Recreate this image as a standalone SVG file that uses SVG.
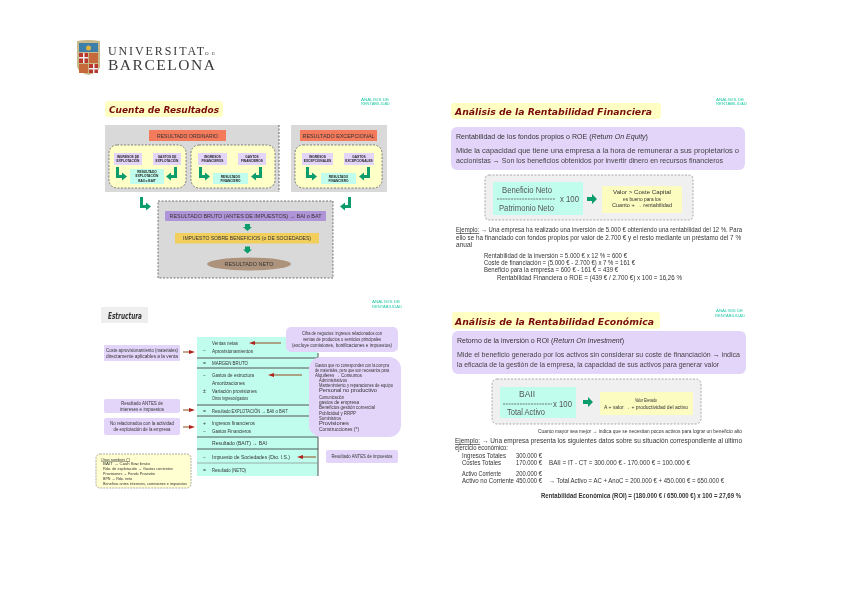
<svg xmlns="http://www.w3.org/2000/svg" width="848" height="600" viewBox="0 0 848 600">
<style>
text{font-family:"Liberation Sans",Arial,sans-serif;fill:#333;font-size:6px}
.c{text-anchor:middle}
.t{font-family:"DejaVu Sans",sans-serif;font-size:9.5px;font-weight:bold;font-style:italic;fill:#7a0c0c}
.tiny{font-size:3.2px;font-weight:bold;fill:#222}
.h{font-size:7px;fill:#333}
.p{font-size:7.5px;fill:#444}
.s{font-size:5px;fill:#333}
.m{font-size:4.500px;fill:#333}
.k{font-size:6.500px;fill:#333}
.f{font-size:8.500px;fill:#555}
.corner{font-size:3.500px;fill:#25c9a8}
.ser{font-family:"Liberation Serif",serif;fill:#3a3a3a}
.grey{fill:#d9d9d9}
.or{fill:#f47a5b}
.yl{fill:#ffffc8;stroke:#555;stroke-width:.7;stroke-dasharray:2 1.5}
.li{fill:#e3d5fa}
.cy{fill:#c0fdec}
.ye{fill:#fdfcc0}
.gb{fill:#f0f0f0;stroke:#888;stroke-width:.7;stroke-dasharray:2 1.5}
.ga{fill:#0b9c6c}
.rule{stroke:#444;stroke-width:1;fill:none}
.rl{stroke:#9c6a40;stroke-width:1.2;fill:none;marker-end:url(#rh)}
.tb{fill:#ffffc4}
</style>
<defs>
<marker id="rh" markerUnits="userSpaceOnUse" markerWidth="6" markerHeight="4" refX="1" refY="2" orient="auto"><path d="M0 0L6 2L0 4Z" fill="#b0201a"/></marker>
<path id="lr" d="M0 0h3v8h3v-2.500l5 4-5 4v-2.500H0Z"/>
<path id="ll" d="M11 0H8v8H5V5.500l-5 4 5 4V11h6Z"/>
<path id="dn" d="M2 0h5v3h2l-4.500 4L0 3h2Z"/>
<filter id="b" x="0" y="0" width="100%" height="100%"><feGaussianBlur stdDeviation="0.4"/></filter>
</defs>
<rect width="848" height="600" fill="#fff"/>
<g filter="url(#b)">
<g id="logo">
<path d="M77 41q11-2 23 0v26q-2 6-11.500 8-9.500-2-11.500-8Z" fill="#c9b98a"/>
<rect x="79" y="43" width="19" height="9" fill="#3d7fa8"/>
<circle cx="88.500" cy="48" r="2.500" fill="#e0b040"/>
<rect x="79" y="53" width="9" height="10" fill="#b8372f"/>
<rect x="89" y="53" width="9" height="10" fill="#c76a3a"/>
<rect x="79" y="64" width="9" height="9" fill="#c76a3a"/>
<rect x="89" y="64" width="9" height="9" fill="#b8372f"/>
<rect x="79" y="57" width="9" height="1.500" fill="#eee"/><rect x="83" y="53" width="1.500" height="10" fill="#eee"/>
<rect x="89" y="68" width="9" height="1.500" fill="#eee"/><rect x="93" y="64" width="1.500" height="9" fill="#eee"/>
<text class="ser" x="108" y="55" style="font-size:12px" textLength="96" lengthAdjust="spacing">UNIVERSITAT</text>
<text class="ser" x="205" y="55" style="font-size:5px" textLength="10" lengthAdjust="spacing">DE</text>
<text class="ser" x="108" y="70" style="font-size:15.500px" textLength="107" lengthAdjust="spacing">BARCELONA</text>
</g>

<g id="cuenta">
<rect x="105" y="101" width="118" height="16" rx="3" class="tb"/>
<text class="t" x="109" y="113" textLength="110" lengthAdjust="spacingAndGlyphs">Cuenta de Resultados</text>
<text class="corner" x="361" y="101" textLength="28" lengthAdjust="spacingAndGlyphs">ANÁLISIS DE</text>
<text class="corner" x="361" y="105" textLength="29" lengthAdjust="spacingAndGlyphs">RENTABILIDAD</text>
<rect x="105" y="125" width="174" height="67" class="grey"/>
<path d="M279 125V192" stroke="#444" stroke-dasharray="2 1.500" stroke-width=".8"/>
<rect x="291" y="125" width="96" height="67" class="grey"/>
<rect x="149" y="130" width="77" height="11" class="or"/>
<text class="s c" x="187.500" y="137.500" textLength="61" lengthAdjust="spacingAndGlyphs">RESULTADO ORDINARIO</text>
<rect x="300" y="130" width="77" height="11" class="or"/>
<text class="s c" x="338.500" y="137.500" textLength="72" lengthAdjust="spacingAndGlyphs">RESULTADO EXCEPCIONAL</text>
<rect x="109" y="145" width="77" height="43" rx="8" class="yl"/>
<rect x="191" y="145" width="84" height="43" rx="8" class="yl"/>
<rect x="295" y="145" width="87" height="43" rx="8" class="yl"/>
<rect x="114" y="153" width="28" height="12" class="li"/>
<rect x="153" y="153" width="28" height="12" class="li"/>
<rect x="198" y="153" width="29" height="12" class="li"/>
<rect x="238" y="153" width="28" height="12" class="li"/>
<rect x="302" y="153" width="31" height="12" class="li"/>
<rect x="344" y="153" width="30" height="12" class="li"/>
<rect x="130" y="169" width="34" height="15" class="cy"/>
<rect x="213" y="173" width="35" height="11" class="cy"/>
<rect x="321" y="173" width="35" height="11" class="cy"/>
<g>
<text class="tiny c" x="128" y="158">INGRESOS DE</text><text class="tiny c" x="128" y="162">EXPLOTACIÓN</text>
<text class="tiny c" x="167" y="158">GASTOS DE</text><text class="tiny c" x="167" y="162">EXPLOTACIÓN</text>
<text class="tiny c" x="212.500" y="158">INGRESOS</text><text class="tiny c" x="212.500" y="162">FINANCIEROS</text>
<text class="tiny c" x="252" y="158">GASTOS</text><text class="tiny c" x="252" y="162">FINANCIEROS</text>
<text class="tiny c" x="317.500" y="158">INGRESOS</text><text class="tiny c" x="317.500" y="162">EXCEPCIONALES</text>
<text class="tiny c" x="359" y="158">GASTOS</text><text class="tiny c" x="359" y="162">EXCEPCIONALES</text>
<text class="tiny c" x="147" y="173">RESULTADO</text><text class="tiny c" x="147" y="177">EXPLOTACIÓN</text><text class="tiny c" x="147" y="182">BAII o BAIT</text>
<text class="tiny c" x="230.500" y="177.500">RESULTADO</text><text class="tiny c" x="230.500" y="182">FINANCIERO</text>
<text class="tiny c" x="338.500" y="177.500">RESULTADO</text><text class="tiny c" x="338.500" y="182">FINANCIERO</text>
</g>
<use href="#lr" x="116" y="167" class="ga"/>
<use href="#ll" x="166" y="167" class="ga"/>
<use href="#lr" x="199" y="167" class="ga"/>
<use href="#ll" x="251" y="167" class="ga"/>
<use href="#lr" x="306" y="167" class="ga"/>
<use href="#ll" x="359" y="167" class="ga"/>
<use href="#lr" x="140" y="197" class="ga"/>
<use href="#ll" x="340" y="197" class="ga"/>
<rect x="158" y="201" width="175" height="77" class="grey" stroke="#444" stroke-width=".7" stroke-dasharray="2 1.500"/>
<rect x="165" y="211" width="161" height="10" fill="#b094d8"/>
<text class="s c" x="245.500" y="218" textLength="152" lengthAdjust="spacingAndGlyphs">RESULTADO BRUTO (ANTES DE IMPUESTOS) → BAI o BAT</text>
<use href="#dn" x="243" y="224" class="ga"/>
<rect x="175" y="233" width="144" height="10.500" fill="#f2cf5c"/>
<text class="s c" x="247" y="240" textLength="128" lengthAdjust="spacingAndGlyphs">IMPUESTO SOBRE BENEFICIOS (o DE SOCIEDADES)</text>
<use href="#dn" x="243" y="246.500" class="ga"/>
<ellipse cx="249" cy="264" rx="42" ry="6.500" fill="#ad927c"/>
<text class="s c" x="249" y="266" textLength="49" lengthAdjust="spacingAndGlyphs">RESULTADO NETO</text>
</g>

<g id="financiera">
<rect x="451" y="103" width="210" height="16" rx="3" class="tb"/>
<text class="t" x="455" y="115" textLength="197" lengthAdjust="spacingAndGlyphs">Análisis de la Rentabilidad Financiera</text>
<text class="corner" x="716" y="101" textLength="28" lengthAdjust="spacingAndGlyphs">ANÁLISIS DE</text>
<text class="corner" x="716" y="105" textLength="31" lengthAdjust="spacingAndGlyphs">RENTABILIDAD</text>
<rect x="451" y="127" width="294" height="43" rx="6" class="li"/>
<text class="h" x="456" y="139" textLength="192" lengthAdjust="spacingAndGlyphs">Rentabilidad de los fondos propios o ROE (<tspan font-style="italic">Return On Equity</tspan>)</text>
<text class="p" x="456" y="153" textLength="283" lengthAdjust="spacing">Mide la capacidad que tiene una empresa a la hora de remunerar a sus propietarios o</text>
<text class="p" x="456" y="163" textLength="267" lengthAdjust="spacingAndGlyphs">accionistas → Son los beneficios obtenidos por invertir dinero en recursos financieros</text>
<rect x="485" y="175" width="208" height="45" rx="4" class="gb"/>
<rect x="493" y="182" width="90" height="33" class="cy"/>
<text class="f" x="502" y="193" textLength="50" lengthAdjust="spacingAndGlyphs">Beneficio Neto</text>
<path d="M497 199H555" stroke="#555" stroke-dasharray="2 .8" stroke-width=".8"/>
<text class="f" x="560" y="202" textLength="19" lengthAdjust="spacingAndGlyphs">x 100</text>
<text class="f" x="499" y="211" textLength="55" lengthAdjust="spacingAndGlyphs">Patrimonio Neto</text>
<path d="M587 197h5v-3l5 5-5 5v-3h-5Z" class="ga"/>
<rect x="602" y="186" width="80" height="27" class="ye"/>
<text class="m c" x="642" y="194" textLength="58" lengthAdjust="spacingAndGlyphs">Valor &gt; Coste Capital</text>
<text class="m c" x="642" y="200.500" textLength="38" lengthAdjust="spacingAndGlyphs">es bueno para los</text>
<text class="m c" x="642" y="207" textLength="60" lengthAdjust="spacingAndGlyphs">Cuanto + → rentabilidad</text>
<text class="k" x="456" y="232" textLength="286" lengthAdjust="spacingAndGlyphs"><tspan text-decoration="underline">Ejemplo:</tspan> → Una empresa ha realizado una inversión de 5.000 € obteniendo una rentabilidad del 12 %. Para</text>
<text class="k" x="456" y="240" textLength="285" lengthAdjust="spacingAndGlyphs">ello se ha financiado con fondos propios por valor de 2.700 € y el resto mediante un préstamo del 7 %</text>
<text class="k" x="456" y="247" textLength="16" lengthAdjust="spacingAndGlyphs">anual</text>
<text class="k" x="484" y="258" textLength="143" lengthAdjust="spacingAndGlyphs">Rentabilidad de la inversión = 5.000 € x 12 % = 600 €</text>
<text class="k" x="484" y="265" textLength="151" lengthAdjust="spacingAndGlyphs">Coste de financiación = (5.000 € - 2.700 €) x 7 % = 161 €</text>
<text class="k" x="484" y="272" textLength="134" lengthAdjust="spacingAndGlyphs">Beneficio para la empresa = 600 € - 161 € = 439 €</text>
<text class="k" x="497" y="280" textLength="185" lengthAdjust="spacingAndGlyphs">Rentabilidad Financiera o ROE = (439 € / 2.700 €) x 100 = 16,26 %</text>
</g>

<g id="estructura">
<rect x="101" y="307" width="47" height="16" fill="#eee"/>
<text x="108" y="319" style="font-family:'DejaVu Sans',sans-serif;font-size:8px;font-style:italic;font-weight:bold" textLength="34" lengthAdjust="spacingAndGlyphs">Estructura</text>
<text class="corner" x="372" y="303" textLength="28" lengthAdjust="spacingAndGlyphs">ANÁLISIS DE</text>
<text class="corner" x="372" y="308" textLength="30" lengthAdjust="spacingAndGlyphs">RENTABILIDAD</text>
<rect x="197" y="337" width="121" height="139" class="cy"/>
<path d="M318 353V476M197 358H318M197 368H318M197 405H318M197 416H318" stroke="#555" stroke-width="1" fill="none"/>
<path d="M197 437H318M197 449H318" stroke="#333" stroke-width=".8" fill="none"/>
<path d="M197 463H318" stroke="#8a9a94" stroke-width=".8" fill="none"/>
<g>
<text class="s" x="203" y="352">−</text>
<text class="s" x="212" y="345" textLength="26" lengthAdjust="spacingAndGlyphs">Ventas netas</text>
<text class="s" x="212" y="352.500" textLength="41" lengthAdjust="spacingAndGlyphs">Aprovisionamientos</text>
<text class="s" x="203" y="364.500">=</text>
<text class="s" x="212" y="364.500" textLength="36" lengthAdjust="spacingAndGlyphs">MARGEN BRUTO</text>
<text class="s" x="203" y="377">−</text>
<text class="s" x="212" y="377" textLength="42" lengthAdjust="spacingAndGlyphs">Gastos de estructura</text>
<text class="s" x="212" y="384.500" textLength="33" lengthAdjust="spacingAndGlyphs">Amortizaciones</text>
<text class="s" x="203" y="392.500">±</text>
<text class="s" x="212" y="392.500" textLength="45" lengthAdjust="spacingAndGlyphs">Variación provisiones</text>
<text class="s" x="212" y="399.500" textLength="36" lengthAdjust="spacingAndGlyphs">Otros ingresos/gastos</text>
<text class="s" x="203" y="412.500">=</text>
<text class="s" x="212" y="412.500" textLength="76" lengthAdjust="spacingAndGlyphs">Resultado EXPLOTACIÓN → BAII o BAIT</text>
<text class="s" x="203" y="425">+</text>
<text class="s" x="212" y="425" textLength="43" lengthAdjust="spacingAndGlyphs">Ingresos financieros</text>
<text class="s" x="203" y="433">−</text>
<text class="s" x="212" y="433" textLength="39" lengthAdjust="spacingAndGlyphs">Gastos Financieros</text>
<text class="s" x="212" y="445" textLength="55" lengthAdjust="spacingAndGlyphs">Resultado (BAIT) → BAI</text>
<text class="s" x="203" y="458.500">−</text>
<text class="s" x="212" y="458.500" textLength="78" lengthAdjust="spacingAndGlyphs">Impuesto de Sociedades (Dto. I.S.)</text>
<text class="s" x="203" y="471.500">=</text>
<text class="s" x="212" y="471.500" textLength="34" lengthAdjust="spacingAndGlyphs">Resultado (NETO)</text>
</g>
<rect x="286" y="327" width="112" height="25" rx="5" class="li"/>
<text class="m c" x="342" y="335" textLength="80" lengthAdjust="spacingAndGlyphs">Cifra de negocios: ingresos relacionados con</text>
<text class="m c" x="342" y="341" textLength="78" lengthAdjust="spacingAndGlyphs">ventas de productos o servicios principales</text>
<text class="m c" x="342" y="347" textLength="100" lengthAdjust="spacingAndGlyphs">(excluye comisiones, bonificaciones e impuestos)</text>
<rect x="309" y="357" width="92" height="80" rx="12" class="li"/>
<g>
<text class="m" x="315" y="367" textLength="74" lengthAdjust="spacingAndGlyphs">Gastos que no corresponden con la compra</text>
<text class="m" x="315" y="372" textLength="74" lengthAdjust="spacingAndGlyphs">de materiales, pero que son necesarios para</text>
<text class="m" x="315" y="377" textLength="47" lengthAdjust="spacingAndGlyphs">Alquileres → Consumos</text>
<text class="m" x="319" y="382" textLength="28" lengthAdjust="spacingAndGlyphs">Administrativos</text>
<text class="m" x="319" y="387" textLength="74" lengthAdjust="spacingAndGlyphs">Mantenimiento y reparaciones de equipo</text>
<text class="m" x="319" y="392" textLength="58" lengthAdjust="spacingAndGlyphs">Personal no productivo</text>
<text class="m" x="319" y="399" textLength="25" lengthAdjust="spacingAndGlyphs">Comunicación</text>
<text class="m" x="319" y="404" textLength="40" lengthAdjust="spacingAndGlyphs">gastos de empresa</text>
<text class="m" x="319" y="409" textLength="56" lengthAdjust="spacingAndGlyphs">Beneficios gestión comercial</text>
<text class="m" x="319" y="415" textLength="37" lengthAdjust="spacingAndGlyphs">Publicidad y RRPP</text>
<text class="m" x="319" y="420" textLength="22" lengthAdjust="spacingAndGlyphs">Suministros</text>
<text class="m" x="319" y="425" textLength="30" lengthAdjust="spacingAndGlyphs">Provisiones</text>
<text class="m" x="319" y="431" textLength="40" lengthAdjust="spacingAndGlyphs">Construcciones (*)</text>
</g>
<rect x="104" y="345" width="76" height="16" rx="1" class="li"/>
<text class="m c" x="142" y="352" textLength="72" lengthAdjust="spacingAndGlyphs">Coste aprovisionamiento (materiales)</text>
<text class="m c" x="142" y="358" textLength="72" lengthAdjust="spacingAndGlyphs">directamente aplicables a la venta</text>
<rect x="104" y="399" width="76" height="14" rx="2" class="li"/>
<text class="m c" x="142" y="405" textLength="42" lengthAdjust="spacingAndGlyphs">Resultado ANTES de</text>
<text class="m c" x="142" y="411" textLength="44" lengthAdjust="spacingAndGlyphs">intereses e impuestos</text>
<rect x="104" y="418" width="76" height="17" rx="2" class="li"/>
<text class="m c" x="142" y="425" textLength="64" lengthAdjust="spacingAndGlyphs">No relacionados con la actividad</text>
<text class="m c" x="142" y="431" textLength="57" lengthAdjust="spacingAndGlyphs">de explotación de la empresa</text>
<rect x="326" y="450" width="72" height="13" rx="2" class="li"/>
<text class="m c" x="362" y="458" textLength="61" lengthAdjust="spacingAndGlyphs">Resultado ANTES de impuestos</text>
<rect x="96" y="454" width="95" height="34" rx="4" fill="#ffffd2" stroke="#888" stroke-width=".7" stroke-dasharray="2 1"/>
<g style="font-size:4px">
<text x="101" y="460.500" style="font-size:4px" textLength="29" lengthAdjust="spacingAndGlyphs" text-decoration="underline">Otros nombres (*)</text>
<text x="103" y="465" style="font-size:4px" textLength="47" lengthAdjust="spacingAndGlyphs">BAIT → Cash flow bruto</text>
<text x="103" y="470" style="font-size:4px" textLength="70" lengthAdjust="spacingAndGlyphs">Rdo. de explotación → Gastos corrientes</text>
<text x="103" y="475" style="font-size:4px" textLength="52" lengthAdjust="spacingAndGlyphs">Provisiones → Fondo Provisión</text>
<text x="103" y="480" style="font-size:4px" textLength="29" lengthAdjust="spacingAndGlyphs">BPN → Rdo. neto</text>
<text x="103" y="485" style="font-size:4px" textLength="84" lengthAdjust="spacingAndGlyphs">Beneficio antes intereses, comisiones e impuestos</text>
</g>
<path class="rl" d="M281 343H254"/>
<path class="rl" d="M183 352H190"/>
<path class="rl" d="M302 375H273"/>
<path class="rl" d="M183 410H190"/>
<path class="rl" d="M183 427H190"/>
<path class="rl" d="M316 457H302"/>
</g>

<g id="economica">
<rect x="452" y="312" width="208" height="17" rx="3" class="tb"/>
<text class="t" x="455" y="325" textLength="199" lengthAdjust="spacingAndGlyphs">Análisis de la Rentabilidad Económica</text>
<text class="corner" x="716" y="312" textLength="27" lengthAdjust="spacingAndGlyphs">ANÁLISIS DE</text>
<text class="corner" x="715" y="317" textLength="30" lengthAdjust="spacingAndGlyphs">RENTABILIDAD</text>
<rect x="452" y="331" width="294" height="43" rx="6" class="li"/>
<text class="h" x="457" y="343" textLength="167" lengthAdjust="spacingAndGlyphs">Retorno de la inversión o ROI (<tspan font-style="italic">Return On Investment</tspan>)</text>
<text class="p" x="457" y="357" textLength="283" lengthAdjust="spacingAndGlyphs">Mide el beneficio generado por los activos sin considerar su coste de financiación → indica</text>
<text class="p" x="457" y="367" textLength="262" lengthAdjust="spacingAndGlyphs">la eficacia de la gestión de la empresa, la capacidad de sus activos para generar valor</text>
<rect x="492" y="379" width="209" height="45" rx="5" class="gb"/>
<rect x="500" y="387" width="76" height="31" class="cy"/>
<text class="f" x="519" y="397" textLength="16" lengthAdjust="spacingAndGlyphs">BAII</text>
<path d="M503 404H552" stroke="#555" stroke-dasharray="2 .8" stroke-width=".8"/>
<text class="f" x="553" y="407" textLength="19" lengthAdjust="spacingAndGlyphs">x 100</text>
<text class="f" x="507" y="415" textLength="38" lengthAdjust="spacingAndGlyphs">Total Activo</text>
<path d="M583 400h5v-3l5 5-5 5v-3h-5Z" class="ga"/>
<rect x="600" y="392" width="93" height="23" class="ye"/>
<text class="m c" x="646" y="402" textLength="22" lengthAdjust="spacingAndGlyphs">Valor Elevado</text>
<text class="m c" x="646" y="409" textLength="84" lengthAdjust="spacingAndGlyphs">A + valor → + productividad del activo</text>
<text class="s" x="538" y="433" textLength="204" lengthAdjust="spacingAndGlyphs">Cuanto mayor sea mejor → indica que se necesitan pocos activos para lograr un beneficio alto</text>
<text class="k" x="455" y="443" textLength="287" lengthAdjust="spacingAndGlyphs"><tspan text-decoration="underline">Ejemplo:</tspan> → Una empresa presenta los siguientes datos sobre su situación correspondiente al último</text>
<text class="k" x="455" y="450" textLength="53" lengthAdjust="spacingAndGlyphs">ejercicio económico:</text>
<text class="k" x="462" y="458" textLength="44" lengthAdjust="spacingAndGlyphs">Ingresos Totales</text>
<text class="k" x="516" y="458" textLength="26" lengthAdjust="spacingAndGlyphs">300.000 €</text>
<text class="k" x="462" y="465" textLength="39" lengthAdjust="spacingAndGlyphs">Costes Totales</text>
<text class="k" x="516" y="465" textLength="26" lengthAdjust="spacingAndGlyphs">170.000 €</text>
<text class="k" x="549" y="465" textLength="141" lengthAdjust="spacingAndGlyphs">BAII = IT - CT = 300.000 € - 170.000 € = 100.000 €</text>
<text class="k" x="462" y="476" textLength="39" lengthAdjust="spacingAndGlyphs">Activo Corriente</text>
<text class="k" x="516" y="476" textLength="26" lengthAdjust="spacingAndGlyphs">200.000 €</text>
<text class="k" x="462" y="483" textLength="52" lengthAdjust="spacingAndGlyphs">Activo no Corriente</text>
<text class="k" x="516" y="483" textLength="26" lengthAdjust="spacingAndGlyphs">450.000 €</text>
<text class="k" x="549" y="483" textLength="175" lengthAdjust="spacingAndGlyphs">→ Total Activo = AC + AnoC = 200.000 € + 450.000 € = 650.000 €</text>
<text class="k" x="541" y="498" textLength="200" lengthAdjust="spacingAndGlyphs" font-weight="bold">Rentabilidad Económica (ROI) = (180.000 € / 650.000 €) x 100 = 27,69 %</text>
</g>
</g>
</svg>
